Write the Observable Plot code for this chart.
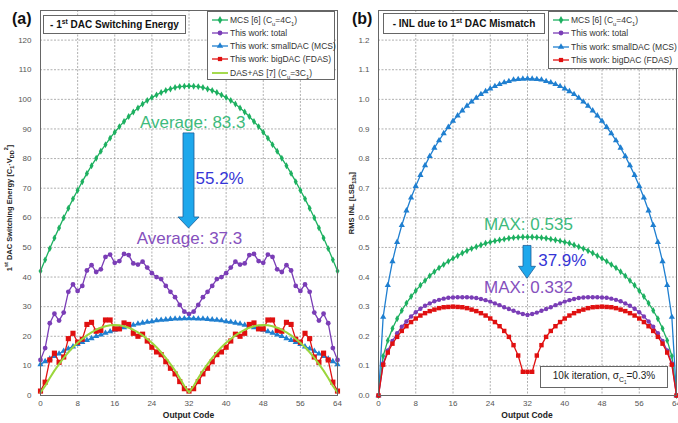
<!DOCTYPE html>
<html><head><meta charset="utf-8">
<script src="https://cdn.jsdelivr.net/npm/d3@7"></script>
<script src="https://cdn.jsdelivr.net/npm/@observablehq/plot@0.6"></script>
<style>
html,body{margin:0;padding:0;background:#fff;}
body{font-family:"Liberation Sans",Arial,Helvetica,sans-serif;}
#wrap{position:relative;width:678px;height:423px;overflow:hidden;background:#fff;}
.pnl{position:absolute;top:0;width:340px;height:423px;}
.box{position:absolute;background:#fff;border:1px solid #666;box-sizing:border-box;}
.ttl{font-weight:bold;font-size:10px;color:#111;display:flex;align-items:center;justify-content:center;white-space:nowrap;}
.leg{font-size:8.5px;color:#333;}
.row{position:absolute;left:3px;height:12px;display:flex;align-items:center;white-space:nowrap;}
.row svg{display:block;margin-right:1px;}
sub,sup{font-size:0.68em;line-height:0;}
.tag{position:absolute;font-weight:bold;font-size:16px;color:#111;line-height:1;}
.note{font-size:10px;color:#222;display:flex;align-items:center;justify-content:center;white-space:nowrap;}
</style></head><body>
<div id="wrap"></div>
<script>
// ---------- data ----------
const codes = [0,1,2,3,4,5,6,7,8,9,10,11,12,13,14,15,16,17,18,19,20,21,22,23,24,25,26,27,28,29,30,31,32,33,34,35,36,37,38,39,40,41,42,43,44,45,46,47,48,49,50,51,52,53,54,55,56,57,58,59,60,61,62,63,64];
const xTicks = [0,8,16,24,32,40,48,56,64];
const yTicksA = [0,10,20,30,40,50,60,70,80,90,100,110,120];
const yTicksB = [0,0.1,0.2,0.3,0.4,0.5,0.6,0.7,0.8,0.9,1.0,1.1,1.2];

// (a) 1st DAC switching energy
const energyMCS = [42,45.8,49.6,53.2,56.6,60.0,63.2,66.4,69.3,72.2,75.0,77.6,80.1,82.5,84.7,86.9,88.9,90.8,92.5,94.2,95.7,97.1,98.4,99.6,100.6,101.5,102.3,103.0,103.5,104.0,104.3,104.4,104.5,
  104.4,104.3,104.0,103.5,103.0,102.3,101.5,100.6,99.6,98.4,97.1,95.7,94.2,92.5,90.8,88.9,86.9,84.7,82.5,80.1,77.6,75.0,72.2,69.3,66.4,63.2,60.0,56.6,53.2,49.6,45.8,42];
const energyTotal = [12,16,24.4,27.6,25.3,28,35,37.5,35.3,37,42.2,44,41.7,42.6,46.8,47.6,44.8,45.4,47.8,47.4,44.6,44.2,45.2,43.2,41.3,40,39.3,37,35,33.2,30.6,28.3,27.5,
  28.3,30.6,33.2,35,37,39.3,40,41.3,43.2,45.2,44.2,44.6,47.4,47.8,45.4,44.8,47.6,46.8,42.6,41.7,44,42.2,37,35.3,37.5,35,28,25.3,27.6,24.4,16,12];
const energySmall = [10.5,11.5,12.4,13.3,14.1,15.0,15.8,16.5,17.3,18.0,18.7,19.3,20.0,20.5,21.1,21.6,22.1,22.6,23.0,23.4,23.8,24.2,24.5,24.8,25.0,25.3,25.5,25.6,25.8,25.9,25.9,26.0,26.0,
  26.0,25.9,25.9,25.8,25.6,25.5,25.3,25.0,24.8,24.5,24.2,23.8,23.4,23.0,22.6,22.1,21.6,21.1,20.5,20.0,19.3,18.7,18.0,17.3,16.5,15.8,15.0,14.1,13.3,12.4,11.5,10.5];
const energyBig = [1.5,4.5,12,14.3,11.2,13,19.2,21,18,19,24,24.7,21.7,22,25.5,25.5,22.5,22.5,24.5,24,21,20,20.7,18.4,16.3,14.7,13.8,11.4,9.2,7.3,4.7,2.3,1.5,
  2.3,4.7,7.3,9.2,11.4,13.8,14.7,16.3,18.4,20.7,20,21,24,24.5,22.5,22.5,25.5,25.5,22,21.7,24.7,24,19,18,21,19.2,13,11.2,14.3,12,4.5,1.5];
const energyDASAS = [1,3.2,5.9,8.4,10.6,12.7,14.6,16.3,17.8,19.1,20.3,21.3,22.2,22.9,23.4,23.7,23.8,23.7,23.4,22.9,22.2,21.3,20.3,19.1,17.8,16.3,14.6,12.7,10.6,8.4,5.9,3.2,1,
  3.2,5.9,8.4,10.6,12.7,14.6,16.3,17.8,19.1,20.3,21.3,22.2,22.9,23.4,23.7,23.8,23.7,23.4,22.9,22.2,21.3,20.3,19.1,17.8,16.3,14.6,12.7,10.6,8.4,5.9,3.2,1];

// (b) RMS INL due to 1st DAC mismatch
const inlMCS = [0,0.133,0.186,0.226,0.259,0.287,0.312,0.334,0.354,0.372,0.388,0.404,0.418,0.431,0.442,0.453,0.463,0.472,0.481,0.489,0.496,0.502,0.508,0.514,0.518,0.522,0.525,0.528,0.531,0.533,0.534,0.535,0.535,
  0.535,0.534,0.533,0.531,0.528,0.525,0.522,0.518,0.514,0.508,0.502,0.496,0.489,0.481,0.472,0.463,0.453,0.442,0.431,0.418,0.404,0.388,0.372,0.354,0.334,0.312,0.287,0.259,0.226,0.186,0.133,0];
const inlTotal = [0,0.108,0.152,0.184,0.21,0.232,0.25,0.267,0.281,0.293,0.303,0.311,0.318,0.323,0.327,0.33,0.331,0.332,0.332,0.332,0.331,0.329,0.326,0.322,0.317,0.311,0.305,0.298,0.292,0.286,0.28,0.275,0.272,
  0.275,0.28,0.286,0.292,0.298,0.305,0.311,0.317,0.322,0.326,0.329,0.331,0.332,0.332,0.332,0.331,0.33,0.327,0.323,0.318,0.311,0.303,0.293,0.281,0.267,0.25,0.232,0.21,0.184,0.152,0.108,0];
const inlSmall = [0,0.265,0.372,0.453,0.518,0.575,0.624,0.668,0.707,0.744,0.777,0.808,0.836,0.861,0.885,0.906,0.927,0.945,0.962,0.978,0.992,1.005,1.017,1.027,1.036,1.044,1.051,1.057,1.061,1.066,1.068,1.069,1.07,
  1.069,1.068,1.066,1.061,1.057,1.051,1.044,1.036,1.027,1.017,1.005,0.992,0.978,0.962,0.945,0.927,0.906,0.885,0.861,0.836,0.808,0.777,0.744,0.707,0.668,0.624,0.575,0.518,0.453,0.372,0.265,0];
const inlBig = [0,0.104,0.145,0.175,0.198,0.218,0.234,0.248,0.26,0.27,0.278,0.285,0.29,0.295,0.298,0.299,0.3,0.299,0.298,0.295,0.29,0.285,0.278,0.27,0.26,0.248,0.234,0.218,0.198,0.17,0.135,0.08,0.08,
  0.08,0.135,0.17,0.198,0.218,0.234,0.248,0.26,0.27,0.278,0.285,0.29,0.295,0.298,0.299,0.3,0.299,0.298,0.295,0.29,0.285,0.278,0.27,0.26,0.248,0.234,0.218,0.198,0.175,0.145,0.104,0];

// annotations (data coordinates)
const notesA = [
  {x:32.8, y:92.2, t:"Average: 83.3", c:"#3dba7c", a:"middle"},
  {x:33.4, y:73.3, t:"55.2%", c:"#3535d6", a:"start"},
  {x:32.1, y:53.0, t:"Average: 37.3", c:"#8550bd", a:"middle"}
];
const notesB = [
  {x:32.2, y:0.576, t:"MAX: 0.535", c:"#3dba7c", a:"middle"},
  {x:34.3, y:0.455, t:"37.9%", c:"#3535d6", a:"start"},
  {x:32.2, y:0.364, t:"MAX: 0.332", c:"#8550bd", a:"middle"}
];
const arrowA = {x:32, y1:88.5, y2:56.4};
const arrowB = {x:32, y1:0.505, y2:0.394};

// ---------- styles ----------
const C = {mcs:"#1db060", total:"#7a3db6", small:"#1f7fd0", big:"#e01010", das:"#9bd63c"};
const FONT = '"Liberation Sans", Arial, Helvetica, sans-serif';

function rows(vals){ return codes.map((c,i)=>({x:c, y:vals[i]})); }
function series(vals, color, symbol, r, lw=1.3){
  const d = rows(vals);
  return [
    Plot.line(d, {x:"x", y:"y", stroke:color, strokeWidth:lw}),
    Plot.dot(d, {x:"x", y:"y", fill:color, stroke:"none", symbol, r})
  ];
}
function annot(notes){
  return ["middle","start"].map(a => Plot.text(notes.filter(d=>d.a===a),
    {x:"x", y:"y", text:"t", fill:"c", textAnchor:a, fontSize:17, fontFamily:FONT, lineAnchor:"middle"}));
}
function deco(arrow, shaft, head, headLen, ylabelFn, ylx, yly){
  return (index, scales, values, dims) => {
    const g = d3.create("svg:g");
    const cx = scales.x(arrow.x), yt = scales.y(arrow.y1), yb = scales.y(arrow.y2);
    const sw = shaft/2, hw = head/2;
    g.append("path")
      .attr("d", `M${cx-sw},${yt}H${cx+sw}V${yb-headLen}H${cx+hw}L${cx},${yb}L${cx-hw},${yb-headLen}H${cx-sw}Z`)
      .attr("fill","#1ea8ec").attr("stroke","#1b5e99").attr("stroke-width",0.8);
    const t = g.append("text").attr("transform",`translate(${ylx},${yly}) rotate(-90)`)
      .attr("text-anchor","middle").attr("dominant-baseline","middle")
      .attr("font-size",7.5).attr("font-weight","bold").attr("fill","#222").attr("font-family",FONT);
    ylabelFn(t);
    g.append("text").attr("x", (dims.marginLeft + dims.width - dims.marginRight)/2).attr("y", dims.height-5)
      .attr("text-anchor","middle").attr("font-size",8.5).attr("font-weight","bold").attr("fill","#222")
      .attr("font-family",FONT).text("Output Code");
    return g.node();
  };
}
function ylabA(t){
  t.append("tspan").text("1");
  t.append("tspan").attr("baseline-shift","super").attr("font-size",5.5).text("st");
  t.append("tspan").text(" DAC Switching Energy [C");
  t.append("tspan").attr("baseline-shift","sub").attr("font-size",5.5).text("1");
  t.append("tspan").text("·V");
  t.append("tspan").attr("baseline-shift","sub").attr("font-size",5.5).text("DD");
  t.append("tspan").attr("baseline-shift","super").attr("font-size",5.5).text("2");
  t.append("tspan").text("]");
}
function ylabB(t){
  t.append("tspan").text("RMS INL [LSB");
  t.append("tspan").attr("baseline-shift","sub").attr("font-size",5.5).text("13b");
  t.append("tspan").text("]");
}
function frameMarks(yTicks, fmt){
  return [
    Plot.gridX(xTicks.slice(1,-1), {stroke:"#9c9c9c", strokeOpacity:1, strokeDasharray:"2,1.5", strokeWidth:0.8}),
    Plot.gridY(yTicks.slice(1), {stroke:"#9c9c9c", strokeOpacity:1, strokeDasharray:"2,1.5", strokeWidth:0.8}),
    Plot.axisX(xTicks, {tickSize:0, tickPadding:5, label:null, fill:"#555"}),
    Plot.axisY(yTicks, {tickSize:0, tickPadding:9, label:null, fill:"#555", tickFormat:fmt})
  ];
}

const common = {width:340, height:423, marginTop:10, marginBottom:28, marginLeft:40,
  style:{fontFamily:FONT, fontSize:"8px", color:"#555", background:"transparent", overflow:"visible"}};

const plotA = Plot.plot({
  ...common, marginRight:3,
  x:{domain:[0,64], label:null}, y:{domain:[0,130], label:null},
  marks:[
    ...frameMarks(yTicksA, d3.format("d")),
    ...series(energyMCS, C.mcs, "diamond", 2.1),
    ...series(energyTotal, C.total, "circle", 2.4),
    ...series(energySmall, C.small, "triangle", 2.3),
    ...series(energyBig, C.big, "square", 2.9),
    Plot.line(rows(energyDASAS), {x:"x", y:"y", stroke:C.das, strokeWidth:2}),
    Plot.frame({stroke:"#666", strokeWidth:1}),
    ...annot(notesA),
    deco(arrowA, 11, 21, 11, ylabA, 10, 208)
  ]
});
const plotB = Plot.plot({
  ...common, marginRight:2,
  x:{domain:[0,64], label:null}, y:{domain:[0,1.3], label:null},
  marks:[
    ...frameMarks(yTicksB, d3.format(".1f")),
    ...series(inlSmall, C.small, "triangle", 2.3),
    ...series(inlMCS, C.mcs, "diamond", 2.1),
    ...series(inlTotal, C.total, "circle", 2.2),
    ...series(inlBig, C.big, "square", 2.5),
    Plot.frame({stroke:"#666", strokeWidth:1}),
    ...annot(notesB),
    deco(arrowB, 8, 17, 12, ylabB, 14, 203)
  ]
});

// ---------- layout ----------
const wrap = document.getElementById("wrap");
function place(node, left){ const d = document.createElement("div"); d.className="pnl"; d.style.left=left+"px"; d.appendChild(node); wrap.appendChild(d); }
place(plotA, 0);
place(plotB, 338);

function el(html, cls, css){ const d=document.createElement("div"); d.className=cls; Object.assign(d.style, css); d.innerHTML="<span>"+html+"</span>"; wrap.appendChild(d); return d; }
el("(a)", "tag", {left:"12px", top:"11px"});
el("(b)", "tag", {left:"352px", top:"11px"});
el("- 1<sup>st</sup> DAC Switching Energy", "box ttl", {left:"43px", top:"15px", width:"143px", height:"19px"});
el("- INL due to 1<sup>st</sup> DAC Mismatch", "box ttl", {left:"383px", top:"13px", width:"162px", height:"21px"});
el("10k iteration, σ<sub>C<sub>1</sub></sub>=0.3%", "box note", {left:"540px", top:"366px", width:"128px", height:"22px"});

const symMap = {diamond:d3.symbolDiamond, circle:d3.symbolCircle, triangle:d3.symbolTriangle, square:d3.symbolSquare};
function legend(items, left, top, w, h, centers){
  const box = document.createElement("div"); box.className="box leg";
  Object.assign(box.style, {left:left+"px", top:top+"px", width:w+"px", height:h+"px"});
  wrap.appendChild(box);
  items.forEach((it,i)=>{
    const r = document.createElement("div"); r.className="row"; r.style.top=(centers[i]-top-7)+"px";
    const s = d3.create("svg").attr("width",18).attr("height",12);
    s.append("line").attr("x1",1).attr("x2",17).attr("y1",6).attr("y2",6).attr("stroke",it.c).attr("stroke-width",it.sym?1.3:1.8);
    if (it.sym) s.append("path").attr("transform","translate(9,6)").attr("d", d3.symbol(symMap[it.sym], 18)()).attr("fill",it.c);
    r.appendChild(s.node());
    const sp = document.createElement("span"); sp.innerHTML = it.label; r.appendChild(sp);
    box.appendChild(r);
  });
}
const legA = [
  {label:"MCS [6] (C<sub>u</sub>=4C<sub>1</sub>)", c:C.mcs, sym:"diamond"},
  {label:"This work: total", c:C.total, sym:"circle"},
  {label:"This work: smallDAC (MCS)", c:C.small, sym:"triangle"},
  {label:"This work: bigDAC (FDAS)", c:C.big, sym:"square"},
  {label:"DAS+AS [7] (C<sub>u</sub>=3C<sub>1</sub>)", c:C.das, sym:null}
];
legend(legA, 207, 11, 128, 69, [20,33,46,59,73]);
legend(legA.slice(0,4), 548, 11, 134, 58, [20,33,47,60]);
</script></body></html>
